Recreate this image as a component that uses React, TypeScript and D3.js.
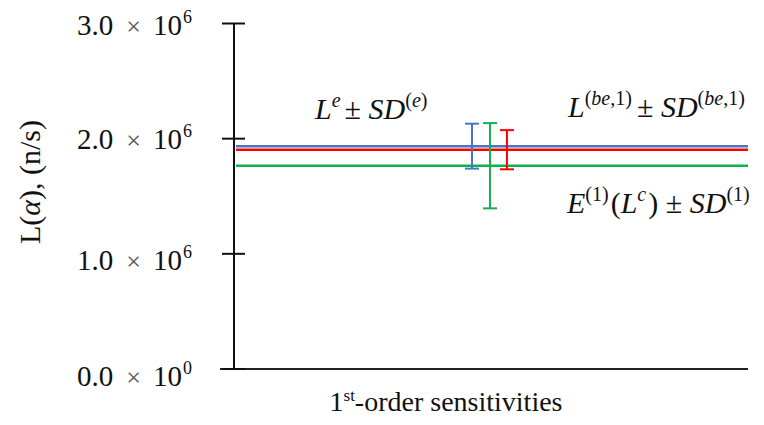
import React from "react";
import * as d3 from "d3";

// three estimates of L(alpha) with their standard deviations
const seriesNames = ["Le", "E1", "Lbe1"];
const seriesColors = ["#4a74c8", "#12b050", "#ff0000"];
const means = [1.935e6, 1.765e6, 1.904e6];
const sds = [0.195e6, 0.37e6, 0.17e6];
// where each error bar sits along the (unitless) horizontal axis
const barPositions = [0.463, 0.498, 0.531];

const yTicks = [0, 1e6, 2e6, 3e6];
const tickMantissas = ["0.0", "1.0", "2.0", "3.0"];
const tickExponents = ["0", "6", "6", "6"];

const W = 764;
const H = 425;
const serif = {
  fontFamily: "'Liberation Serif', 'Times New Roman', 'DejaVu Serif', serif",
};
// the original labels sit a little lower the further down the axis they are
const labelDrop = [17, 16, 10, 11.5];

const App: React.FC = () => {
  const y = d3.scaleLinear().domain([0, 3e6]).range([369, 23.5]);
  const x = d3.scaleLinear().domain([0, 1]).range([234, 748]);
  const axisX = x(0);

  const hLine = d3
    .line<[number, number]>()
    .x((d) => d[0])
    .y((d) => d[1]);

  return (
    <svg
      width={W}
      height={H}
      style={{ position: "absolute", left: 0, top: 0, background: "#fff" }}
    >
      {/* mean lines */}
      {means.map((m, i) => (
        <path
          key={"l" + seriesNames[i]}
          d={hLine([
            [axisX + 2, y(m)],
            [x(1), y(m)],
          ]) as string}
          stroke={seriesColors[i]}
          strokeWidth={2.5}
          fill="none"
        />
      ))}

      {/* error bars */}
      {means.map((m, i) => {
        const cx = x(barPositions[i]);
        const top = y(m + sds[i]);
        const bot = y(m - sds[i]);
        return (
          <g key={"e" + seriesNames[i]} stroke={seriesColors[i]} strokeWidth={2}>
            <line x1={cx} x2={cx} y1={top} y2={bot} />
            <line x1={cx - 7} x2={cx + 7} y1={top} y2={top} />
            <line x1={cx - 7} x2={cx + 7} y1={bot} y2={bot} />
          </g>
        );
      })}

      {/* axes */}
      <line x1={axisX} x2={axisX} y1={y(3e6)} y2={y(0)} stroke="#111" strokeWidth={2} />
      <line x1={220} x2={x(1)} y1={y(0)} y2={y(0)} stroke="#222" strokeWidth={2} />
      {yTicks.map((t, i) => (
        <g key={"t" + t}>
          <line x1={axisX - 12} x2={axisX + 11} y1={y(t)} y2={y(t)} stroke="#111" strokeWidth={2} />
          <text x={77} y={y(t) + labelDrop[i]} fontSize={29} fill="#111" style={serif}>
            {tickMantissas[i]}
            <tspan dx={13} fill="#555" fontSize={26}>×</tspan>
            <tspan dx={12}>10</tspan>
            <tspan dx={1} dy={-12} fontSize={18}>{tickExponents[i]}</tspan>
          </text>
        </g>
      ))}

      {/* axis titles */}
      <text
        transform="translate(40,182) rotate(-90)"
        textAnchor="middle"
        fontSize={30}
        fill="#111"
        style={serif}
      >
        L(<tspan fontStyle="italic">α</tspan>), (n/s)
      </text>
      <text x={446} y={411} textAnchor="middle" fontSize={28} fill="#111" style={serif}>
        1<tspan dy={-10} fontSize={17}>st</tspan>
        <tspan dy={10}>-order sensitivities</tspan>
      </text>

      {/* series annotations */}
      <text x={315} y={119} fontSize={30} fill="#111" style={serif}>
        <tspan fontStyle="italic">L</tspan>
        <tspan dy={-12} fontSize={20} fontStyle="italic">e</tspan>
        <tspan dy={12} dx={4}>± </tspan>
        <tspan fontStyle="italic">SD</tspan>
        <tspan dy={-12} fontSize={20}>(</tspan>
        <tspan fontSize={20} fontStyle="italic">e</tspan>
        <tspan fontSize={20}>)</tspan>
      </text>
      <text x={568} y={117} fontSize={30} fill="#111" style={serif}>
        <tspan fontStyle="italic">L</tspan>
        <tspan dy={-12} fontSize={20}>(</tspan>
        <tspan fontSize={20} fontStyle="italic">be</tspan>
        <tspan fontSize={20}>,1)</tspan>
        <tspan dy={12} dx={5}>± </tspan>
        <tspan fontStyle="italic">SD</tspan>
        <tspan dy={-12} fontSize={20}>(</tspan>
        <tspan fontSize={20} fontStyle="italic">be</tspan>
        <tspan fontSize={20}>,1)</tspan>
      </text>
      <text x={567} y={213} fontSize={30} fill="#111" style={serif}>
        <tspan fontStyle="italic">E</tspan>
        <tspan dy={-12} fontSize={20}>(1)</tspan>
        <tspan dy={12} dx={2}>(</tspan>
        <tspan fontStyle="italic">L</tspan>
        <tspan dy={-12} fontSize={20} fontStyle="italic">c</tspan>
        <tspan dy={12} dx={2}>) ± </tspan>
        <tspan fontStyle="italic">SD</tspan>
        <tspan dy={-12} fontSize={20}>(1)</tspan>
      </text>
    </svg>
  );
};

export default App;
